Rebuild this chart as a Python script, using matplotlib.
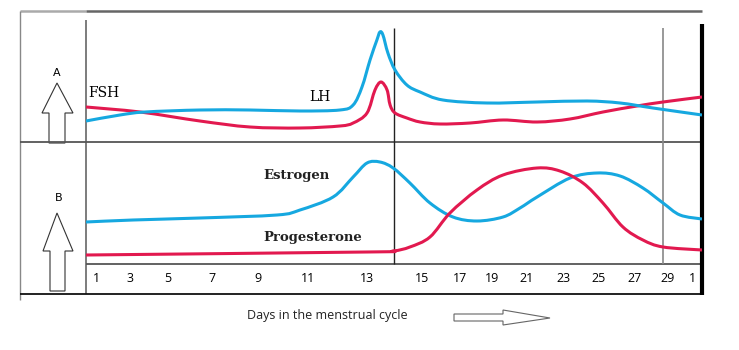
import numpy as np
import matplotlib
matplotlib.use("Agg")
import matplotlib.pyplot as plt
from matplotlib.patches import Polygon, PathPatch
from matplotlib.path import Path

# day axis: tick labels (the last "1" is day 1 of the next cycle)
tick_days = [1, 3, 5, 7, 9, 11, 13, 15, 17, 19, 21, 23, 25, 27, 29, 31]
tick_labels = ['1', '3', '5', '7', '9', '11', '13', '15', '17', '19', '21',
               '23', '25', '27', '29', '1']

# panel A: FSH and LH (relative level)
fsh_day = [0.4, 3.53, 6.45, 8.65, 10.68, 12.08, 12.53, 13.0, 13.29, 13.51,
           13.73, 13.84, 14.02, 14.45, 14.93, 15.95, 17.63, 19.63, 21.56,
           23.39, 25.22, 27.12, 28.7, 31.4]
fsh_val = [35, 30, 21, 15, 14, 16, 19, 29, 52, 60, 52, 37, 29, 24, 20, 18,
           19, 22, 20, 23, 30, 36, 40, 45]

lh_day = [0.4, 2.41, 3.79, 6.45, 8.65, 10.68, 12.08, 12.53, 12.83, 13.11,
          13.36, 13.47, 13.58, 13.76, 14.02, 14.45, 14.93, 16.1, 18.69,
          21.56, 24.33, 26.17, 28.09, 31.4]
lh_val = [21, 27, 30, 32, 32, 31, 32, 37, 55, 82, 102, 110, 107, 89, 72, 57,
          50, 42, 39, 40, 41, 39, 34, 27]

# panel B: estrogen and progesterone (relative level)
est_day = [0.4, 3.16, 6.45, 9.76, 10.68, 11.85, 12.53, 13.0, 13.47, 13.95,
           14.56, 15.42, 16.63, 18.06, 19.63, 20.6, 21.56, 23.39, 24.89,
           26.17, 27.48, 28.7, 30.0, 31.4]
est_val = [42, 44, 46, 49, 54, 67, 87, 101, 102, 96, 81, 61, 47, 43, 47, 56,
           67, 86, 91, 88, 76, 61, 49, 45]

prog_day = [0.4, 13.0, 13.95, 14.56, 15.42, 16.47, 18.06, 19.63, 21.56,
            22.83, 24.11, 25.22, 26.33, 27.48, 28.7, 31.4]
prog_val = [9, 12, 13, 17, 27, 51, 74, 89, 96, 93, 81, 61, 37, 24, 17, 14]

BLUE = '#16a8e0'
RED = '#e2194f'

W, H = 739, 350
fig = plt.figure(figsize=(W / 100, H / 100), dpi=100)

# background layer in pixel units for the frame and arrows
bg = fig.add_axes([0, 0, 1, 1])
bg.set_xlim(0, W)
bg.set_ylim(H, 0)
bg.axis('off')

def seg(x0, y0, x1, y1, c='#555555', lw=1.2):
    bg.plot([x0, x1], [y0, y1], color=c, lw=lw, solid_capstyle='butt')

seg(20, 11, 86, 11, '#aaaaaa', 1.8)
seg(86, 11, 702, 11, '#666666', 1.8)
seg(20, 11, 20, 300, '#888888', 1.0)
seg(86, 20, 86, 294, '#666666', 1.2)
seg(20, 142, 702, 142, '#555555', 1.3)
seg(86, 264, 702, 264, '#555555', 1.3)
seg(20, 294, 702, 294, '#111111', 1.3)
seg(702, 24, 702, 295, '#000000', 3.0)
seg(394, 28, 394, 264, '#222222', 1.0)
seg(663, 28, 663, 264, '#888888', 1.2)

# up arrows
arrow_a = [(49, 143), (49, 113), (42, 113), (57, 83), (73, 113), (65, 113), (65, 143)]
arrow_b = [(50, 291), (50, 251), (43, 251), (57, 213), (73, 251), (65, 251), (65, 291)]
for pts in (arrow_a, arrow_b):
    bg.add_patch(Polygon(pts, closed=True, fc='white', ec='#333333', lw=0.8))
bg.text(57, 73, 'A', ha='center', va='center', fontsize=8, family='DejaVu Sans')
bg.text(59, 198, 'B', ha='center', va='center', fontsize=8, family='DejaVu Sans')

# right arrow beside x label
arrow_r = [(454, 314), (503, 314), (503, 310), (550, 318), (503, 325), (503, 321), (454, 321)]
bg.add_patch(Polygon(arrow_r, closed=True, fc='white', ec='#666666', lw=0.8))
bg.text(327, 315, 'Days in the menstrual cycle', ha='center', va='center',
        fontsize=9, family='Open Sans', color='#222222')

# curve axes with non-uniform day scale
day_knots = [0.4] + tick_days + [31.4]
px_knots = [86, 96, 130, 168, 212, 258, 308, 367, 422, 460, 492, 527, 563,
            599, 635, 668, 692, 702]
fwd = lambda d: np.interp(d, day_knots, px_knots)
inv = lambda p: np.interp(p, px_knots, day_knots)


def smooth_line(ax, xs, ys, color):
    # catmull-rom through the read points, drawn as bezier segments
    px = fwd(np.asarray(xs, float))
    py = np.asarray(ys, float)
    P = np.column_stack([px, py])
    P = np.vstack([P[0], P, P[-1]])
    verts = [P[1]]
    codes = [Path.MOVETO]
    for i in range(1, len(P) - 2):
        c1 = P[i] + (P[i + 1] - P[i - 1]) / 6
        c2 = P[i + 1] - (P[i + 2] - P[i]) / 6
        verts += [c1, c2, P[i + 1]]
        codes += [Path.CURVE4] * 3
    verts = np.array(verts)
    verts[:, 0] = inv(verts[:, 0])
    ax.add_patch(PathPatch(Path(verts, codes), fc='none', ec=color, lw=2.2,
                           joinstyle='round', capstyle='butt'))


def panel(top, bottom):
    ax = fig.add_axes([86 / W, 1 - bottom / H, (702 - 86) / W, (bottom - top) / H])
    ax.set_facecolor('none')
    ax.set_xscale('function', functions=(fwd, inv))
    ax.set_xlim(0.4, 31.4)
    ax.set_ylim(0, bottom - top)
    for s in ax.spines.values():
        s.set_visible(False)
    ax.set_yticks([])
    return ax

axA = panel(11, 142)
smooth_line(axA, fsh_day, fsh_val, RED)
smooth_line(axA, lh_day, lh_val, BLUE)
axA.set_xticks([])
axA.text(0.55, 49, 'FSH', fontsize=10, family='DejaVu Serif', va='center')
axA.text(11.05, 45, 'LH', fontsize=10, family='DejaVu Serif', va='center')

axB = panel(142, 264)
smooth_line(axB, est_day, est_val, BLUE)
smooth_line(axB, prog_day, prog_val, RED)
axB.set_xticks(tick_days, tick_labels)
axB.tick_params(axis='x', length=0, pad=6, labelsize=9)
for lab in axB.get_xticklabels():
    lab.set_family('Open Sans')
axB.text(9.2, 88, 'Estrogen', fontsize=9.5, family='DejaVu Serif',
         weight='bold', va='center', color='#222222')
axB.text(9.2, 27, 'Progesterone', fontsize=9.5, family='DejaVu Serif',
         weight='bold', va='center', color='#222222')

fig.savefig('out.png', dpi=100)
